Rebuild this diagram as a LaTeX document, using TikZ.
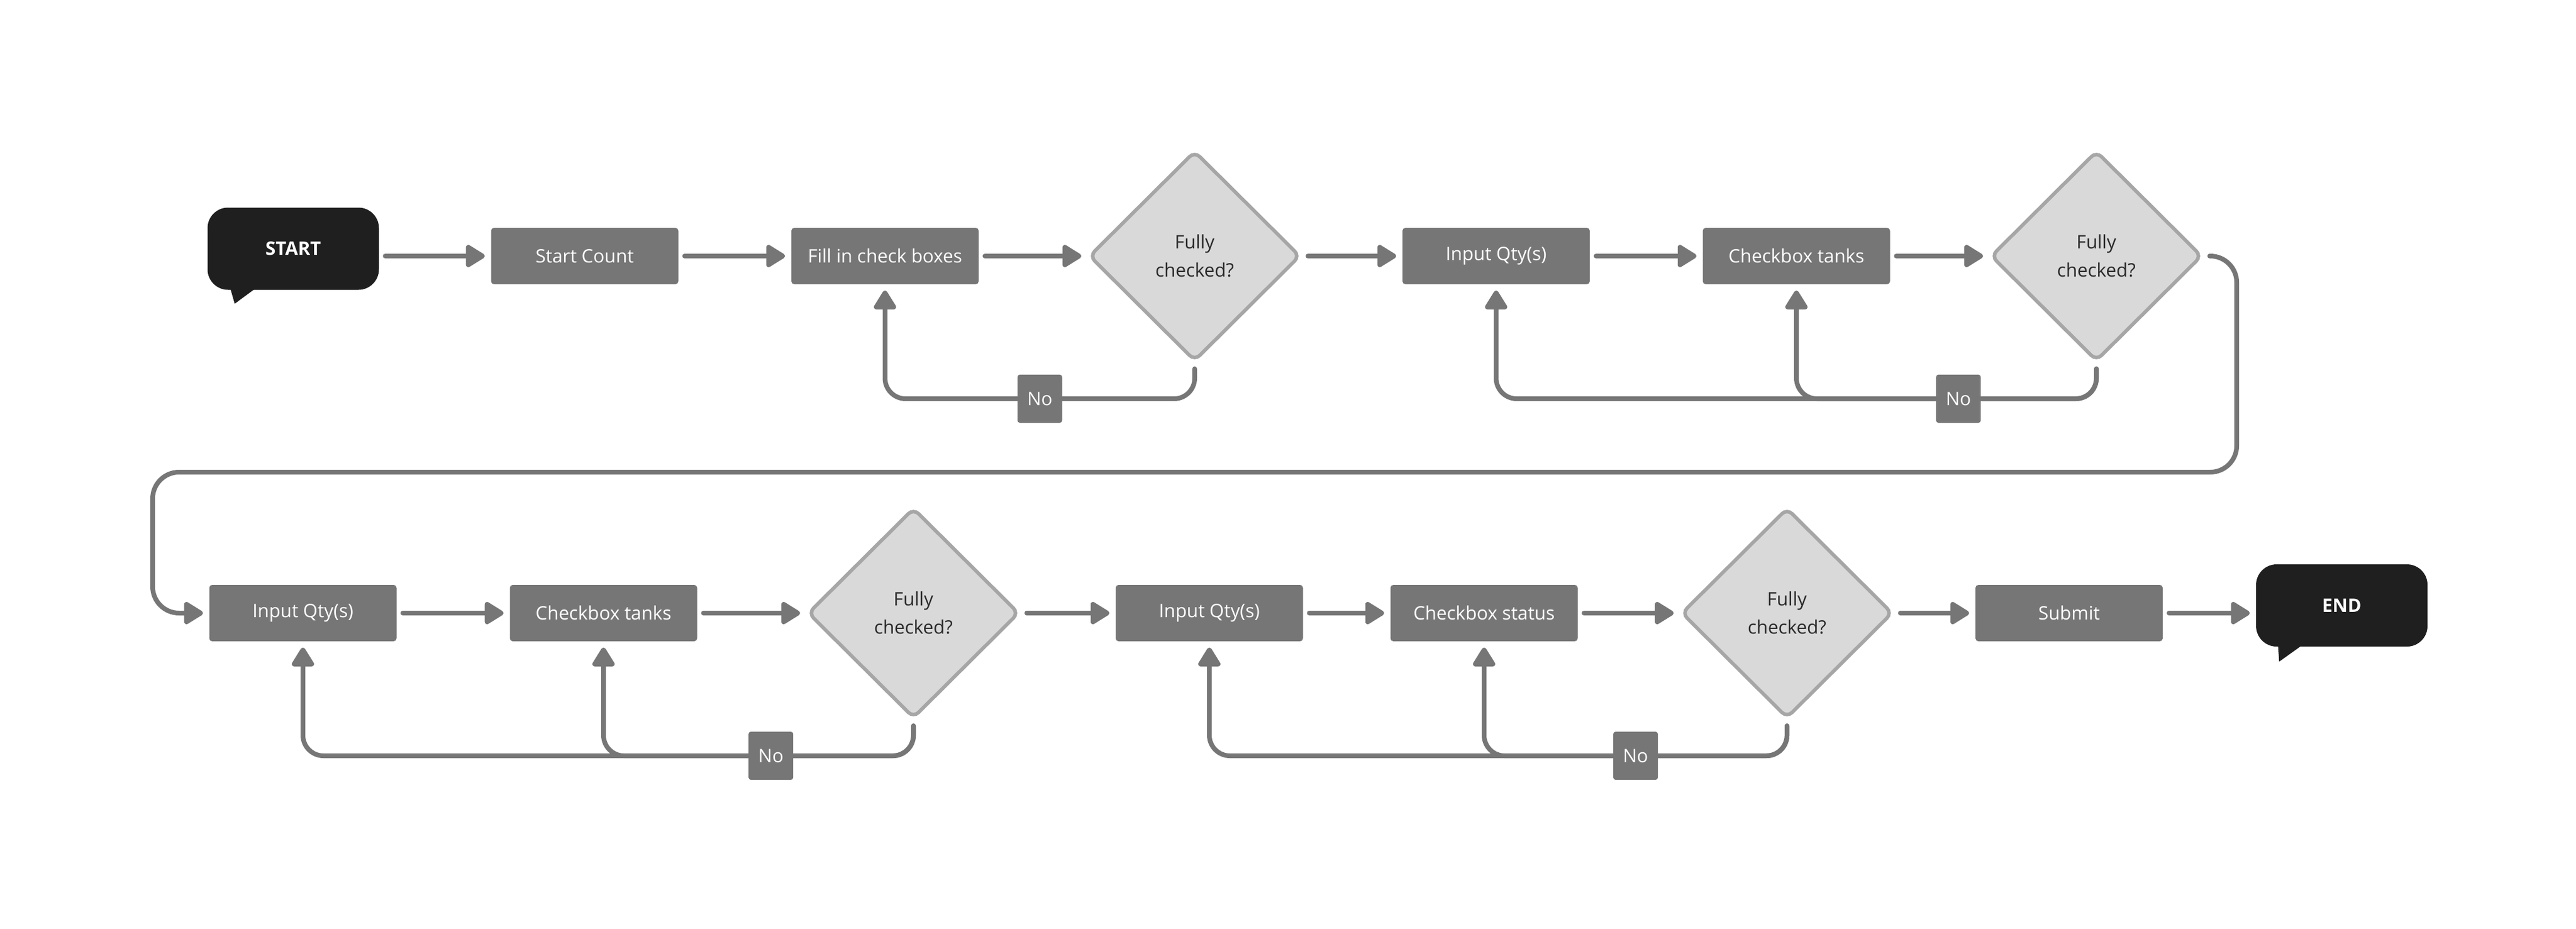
\documentclass[tikz,border=0pt]{standalone}
\usepackage{fontspec}
\setmainfont{Open Sans}
\usetikzlibrary{shapes.geometric,arrows.meta,calc}
\definecolor{boxgrey}{HTML}{767676}
\definecolor{bubble}{HTML}{1F1F1F}
\definecolor{decfill}{HTML}{D9D9D9}
\definecolor{decline}{HTML}{A6A6A6}
\definecolor{dectext}{HTML}{2A2A2A}

\begin{document}
\begin{tikzpicture}[taskbox/.style={fill=boxgrey, rounded corners=0.05cm, minimum width=3.19cm, minimum height=0.96cm, inner sep=0pt, text=white, font=\fontsize{9}{11}\selectfont},
  terminal/.style={fill=bubble, rounded corners=0.35cm, minimum width=2.92cm, minimum height=1.4cm, inner sep=0pt, text=white, font=\fontsize{9}{11}\selectfont\bfseries},
  decision/.style={diamond, draw=decline, line width=0.06cm, fill=decfill, minimum width=3.6cm, minimum height=3.58cm, inner sep=0pt, rounded corners=0.12cm, align=center, text=dectext, font=\fontsize{9}{13.6}\selectfont},
  nolabel/.style={fill=boxgrey, rounded corners=0.04cm, minimum width=0.76cm, minimum height=0.82cm, inner sep=0pt, text=white, font=\fontsize{9}{11}\selectfont},
  flow/.style={draw=boxgrey, line width=0.08cm, line cap=round, -{Triangle[length=0.36cm,width=0.42cm,round]}, shorten <=0.1cm, shorten >=0.1cm},
  back/.style={flow, rounded corners=0.35cm}]
\useasboundingbox (0,0) rectangle (43.88,-15.81);

\node[terminal] (start) at (4.995,-4.235) {START};
\fill[bubble] ([xshift=0.39cm,yshift=0.05cm]start.south west) -- ([xshift=0.47cm,yshift=-0.23cm]start.south west) -- ([xshift=0.85cm,yshift=0.05cm]start.south west) -- cycle;
\node[taskbox] (count) at (9.96,-4.36) {Start Count};
\node[taskbox] (fill) at (15.075,-4.36) {Fill in check boxes};
\node[decision] (chk1) at (20.35,-4.36) {Fully\\checked?};
\node[taskbox] (qty1) at (25.485,-4.36) {Input Qty(s)};
\node[taskbox] (tank1) at (30.60,-4.36) {Checkbox tanks};
\node[decision] (chk2) at (35.71,-4.36) {Fully\\checked?};

\node[taskbox] (qty2) at (5.16,-10.44) {Input Qty(s)};
\node[taskbox] (tank2) at (10.28,-10.44) {Checkbox tanks};
\node[decision] (chk3) at (15.56,-10.44) {Fully\\checked?};
\node[taskbox] (qty3) at (20.60,-10.44) {Input Qty(s)};
\node[taskbox] (status) at (25.28,-10.44) {Checkbox status};
\node[decision] (chk4) at (30.44,-10.44) {Fully\\checked?};
\node[taskbox] (submit) at (35.245,-10.44) {Submit};
\node[terminal] (end) at (39.89,-10.31) {END};
\fill[bubble] ([xshift=0.38cm,yshift=0.05cm]end.south west) -- ([xshift=0.40cm,yshift=-0.25cm]end.south west) -- ([xshift=0.82cm,yshift=0.05cm]end.south west) -- cycle;

\draw[flow] (start.east |- count) -- (count);
\foreach \a/\b in {count/fill, fill/chk1, chk1/qty1, qty1/tank1, tank1/chk2, qty2/tank2, tank2/chk3, chk3/qty3, qty3/status, status/chk4, chk4/submit}
  \draw[flow] (\a) -- (\b);
\draw[flow] (submit) -- (submit -| end.west);

\draw[back] (chk1.south) -- ++(0,-0.61) -| node[nolabel,pos=.25]{No} (fill.south);
\draw[back] (chk2.south) -- ++(0,-0.61) -| (qty1.south);
\draw[back] (chk2.south) -- ++(0,-0.61) -| node[nolabel,pos=.23]{No} (tank1.south);
\draw[back] (chk3.south) -- ++(0,-0.61) -| (qty2.south);
\draw[back] (chk3.south) -- ++(0,-0.61) -| node[nolabel,pos=.23]{No} (tank2.south);
\draw[back] (chk4.south) -- ++(0,-0.61) -| (qty3.south);
\draw[back] (chk4.south) -- ++(0,-0.61) -| node[nolabel,pos=.25]{No} (status.south);

\coordinate (wrapR) at (38.10,-8.04);
\coordinate (wrapL) at (2.60,-8.04);
\draw[flow, rounded corners=0.45cm] (chk2.east) -| (wrapR) -- (wrapL) |- (qty2.west);
\end{tikzpicture}
\end{document}
